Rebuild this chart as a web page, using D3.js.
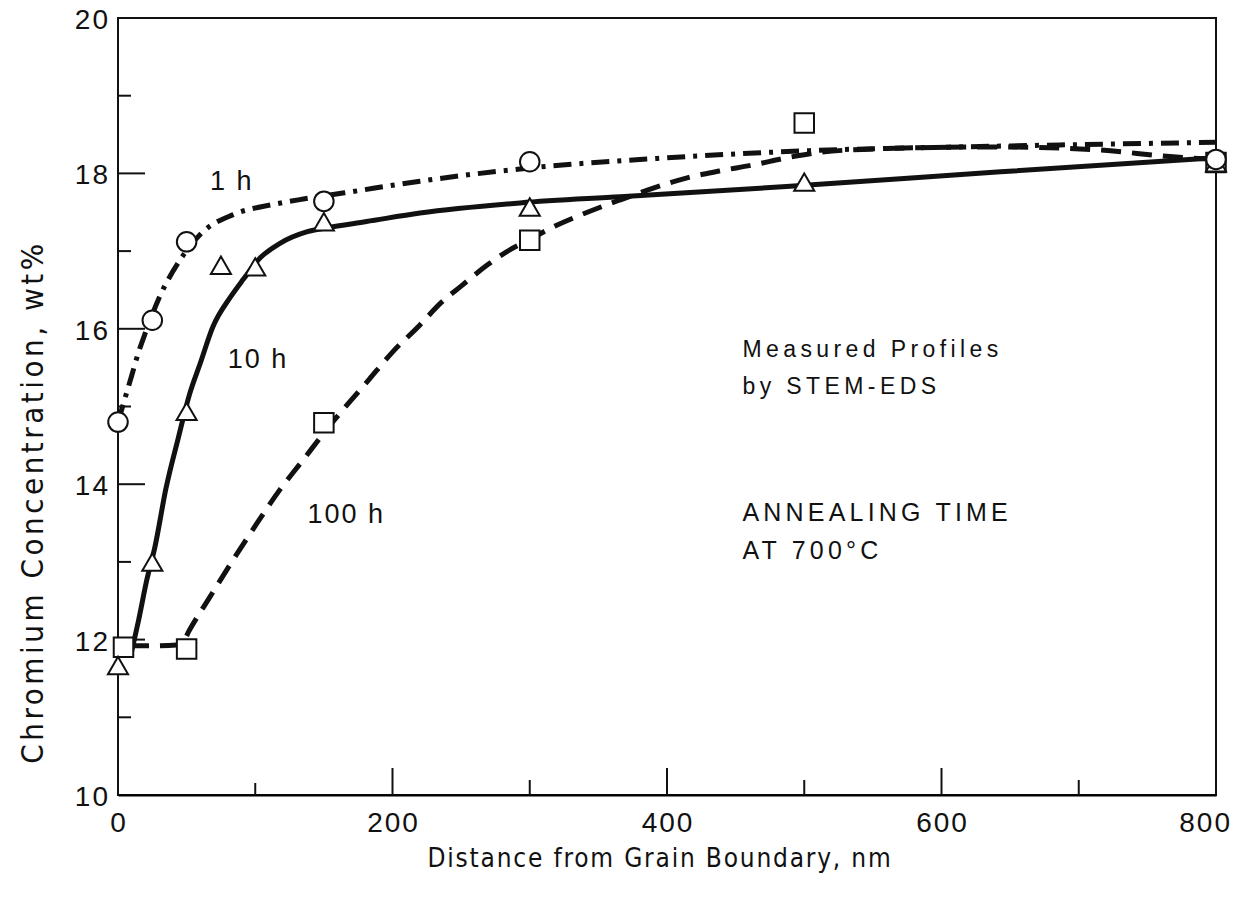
<!DOCTYPE html>
<html>
<head>
<meta charset="utf-8">
<script src="https://cdn.jsdelivr.net/npm/d3@7"></script>
<style>
    body { margin: 0; background: #fff; }
    text { font-family: "Liberation Sans", Arial, Helvetica, sans-serif; fill: #111; }
    .tick-label { font-size: 28px; letter-spacing: 2px; }
    .axis-title { font-family: "Liberation Sans Narrow", "DejaVu Sans Condensed", "Liberation Sans", sans-serif; }
</style>
</head>
<body>
<script>
(function(){

    //measured points (distance nm, Cr wt%)
    var pts1h = [[0,14.8],[25,16.11],[50,17.12],[150,17.64],[300,18.15],[800,18.18]];
    var pts10h = [[0,11.63],[25,12.96],[50,14.9],[75,16.78],[100,16.76],[150,17.34],[300,17.53],[500,17.85],[800,18.1]];
    var pts100h = [[4,11.9],[50,11.88],[150,14.79],[300,17.14],[500,18.65],[800,18.14]];

    //hand drawn fit curves
    var curve1h = [[0,14.8],[5,15.1],[10,15.4],[15,15.7],[20,15.95],[30,16.4],[45,16.88],[62,17.25],[84,17.47],
        [113,17.6],[135,17.67],[165,17.75],[220,17.9],[300,18.07],[390,18.19],[500,18.29],[640,18.35],[800,18.4]];
    var curve10h = [[10,11.85],[15,12.25],[21,12.77],[27,13.2],[35,13.95],[44,14.6],[52,15.15],[60,15.56],[69,16.02],
        [82,16.41],[91,16.63],[104,16.92],[118,17.1],[138,17.25],[152,17.3],[181,17.38],[220,17.49],[293,17.62],
        [366,17.7],[487,17.83],[643,18.02],[800,18.2]];
    var curve100h = [[8,11.92],[25,11.92],[43,11.93],[47,11.96],[52,12.12],[67,12.55],[84,13.03],[98,13.41],[118,13.93],
        [133,14.27],[155,14.77],[183,15.35],[200,15.7],[220,16.05],[235,16.33],[250,16.55],[269,16.82],[283,16.99],
        [300,17.15],[317,17.31],[342,17.5],[366,17.66],[390,17.81],[414,17.94],[438,18.03],[463,18.11],[487,18.2],
        [511,18.27],[560,18.32],[640,18.34],[716,18.3],[764,18.22],[800,18.18]];

    //axis ticks
    var xTicks = [0,100,200,300,400,500,600,700,800];
    var xLabels = [0,200,400,600,800];
    var yTicks = [10,11,12,13,14,15,16,17,18,19,20];
    var yLabels = [10,12,14,16,18,20];

    //text notes: [text, nm, wt%]
    var curveNames = [["1 h",67,17.79],["10 h",80,15.5],["100 h",138,13.5]];
    var notes = [["Measured Profiles",455,15.64],["by STEM-EDS",455,15.16]];
    var notes2 = [["ANNEALING TIME",455,13.52],["AT 700°C",455,13.04]];

    window.onload = setChart();

    function setChart(){
        var width = 1235, height = 902;
        var left = 118, right = 1216, top = 18, bottom = 795;

        var svg = d3.select("body")
            .append("svg")
            .attr("width", width)
            .attr("height", height);

        var x = d3.scaleLinear().domain([0, 800]).range([left, right]);
        var y = d3.scaleLinear().domain([10, 20]).range([bottom, top]);

        //frame
        svg.append("rect")
            .attr("x", left)
            .attr("y", top)
            .attr("width", right - left)
            .attr("height", bottom - top)
            .attr("fill", "none")
            .attr("stroke", "#111")
            .attr("stroke-width", 2);

        //bottom axis line
        svg.append("g")
            .attr("transform", "translate(0," + bottom + ")")
            .call(d3.axisBottom(x).tickValues([]).tickSizeOuter(0))
            .select(".domain").attr("stroke-width", 2);

        //ticks point inward
        svg.selectAll(".xtick")
            .data(xTicks.slice(1, -1))
            .enter()
            .append("line")
            .attr("class", "xtick")
            .attr("x1", function(d){ return x(d); })
            .attr("x2", function(d){ return x(d); })
            .attr("y1", bottom)
            .attr("y2", function(d){ return bottom - (d == 100 ? 12 : (d % 200 == 0 ? 27 : 15)); })
            .attr("stroke", "#111")
            .attr("stroke-width", 2);

        svg.selectAll(".xlab")
            .data(xLabels)
            .enter()
            .append("text")
            .attr("class", "tick-label")
            .attr("x", function(d){ return d == 800 ? x(d) + 16 : x(d) + 1; })
            .attr("y", bottom + 37)
            .attr("text-anchor", function(d){ return d == 800 ? "end" : "middle"; })
            .text(function(d){ return d; });

        //left axis ticks
        svg.selectAll(".ytick")
            .data(yTicks.slice(1, -1))
            .enter()
            .append("line")
            .attr("class", "ytick")
            .attr("x1", left)
            .attr("x2", function(d){ return left + (d % 2 == 0 ? 27 : 13); })
            .attr("y1", function(d){ return y(d); })
            .attr("y2", function(d){ return y(d); })
            .attr("stroke", "#111")
            .attr("stroke-width", 2);

        svg.selectAll(".ylab")
            .data(yLabels)
            .enter()
            .append("text")
            .attr("class", "tick-label")
            .attr("x", left - 8)
            .attr("y", function(d){ return y(d) + 11; })
            .attr("text-anchor", "end")
            .text(function(d){ return d; });

        //axis titles
        svg.append("text")
            .attr("class", "axis-title")
            .attr("x", 660)
            .attr("y", 867)
            .attr("text-anchor", "middle")
            .style("font-size", "26px")
            .style("letter-spacing", "1.8px")
            .text("Distance from Grain Boundary, nm");

        svg.append("text")
            .attr("class", "axis-title")
            .attr("transform", "translate(43,502) rotate(-90)")
            .attr("text-anchor", "middle")
            .style("font-size", "31px")
            .style("letter-spacing", "3.5px")
            .text("Chromium Concentration, wt%");

        //fit curves
        var line = d3.line()
            .x(function(d){ return x(d[0]); })
            .y(function(d){ return y(d[1]); })
            .curve(d3.curveMonotoneX);

        svg.append("path")
            .datum(curve1h)
            .attr("d", line)
            .attr("fill", "none")
            .attr("stroke", "#111")
            .attr("stroke-width", 5)
            .attr("stroke-dasharray", "18,8,4,8");

        svg.append("path")
            .datum(curve10h)
            .attr("d", line)
            .attr("fill", "none")
            .attr("stroke", "#111")
            .attr("stroke-width", 5);

        svg.append("path")
            .datum(curve100h)
            .attr("d", line)
            .attr("fill", "none")
            .attr("stroke", "#111")
            .attr("stroke-width", 5)
            .attr("stroke-dasharray", "20,11");

        //markers
        function addMarkers(data, type, size){
            svg.selectAll(null)
                .data(data)
                .enter()
                .append("path")
                .attr("d", d3.symbol().type(type).size(size))
                .attr("transform", function(d){ return "translate(" + x(d[0]) + "," + y(d[1]) + ")"; })
                .attr("fill", "#fff")
                .attr("stroke", "#111")
                .attr("stroke-width", 2);
        };
        addMarkers(pts100h, d3.symbolSquare, 380);
        addMarkers(pts10h, d3.symbolTriangle, 175);
        addMarkers(pts1h, d3.symbolCircle, 300);

        //curve names
        svg.selectAll(".cname")
            .data(curveNames)
            .enter()
            .append("text")
            .attr("x", function(d){ return x(d[1]); })
            .attr("y", function(d){ return y(d[2]); })
            .style("font-size", "27px")
            .style("letter-spacing", "2px")
            .text(function(d){ return d[0]; });

        svg.selectAll(".note")
            .data(notes)
            .enter()
            .append("text")
            .attr("x", function(d){ return x(d[1]); })
            .attr("y", function(d){ return y(d[2]); })
            .style("font-size", "23px")
            .style("letter-spacing", "4.4px")
            .text(function(d){ return d[0]; });

        svg.selectAll(".note2")
            .data(notes2)
            .enter()
            .append("text")
            .attr("x", function(d){ return x(d[1]); })
            .attr("y", function(d){ return y(d[2]); })
            .style("font-size", "25px")
            .style("letter-spacing", "4.2px")
            .text(function(d){ return d[0]; });
    };

})();
</script>
</body>
</html>
